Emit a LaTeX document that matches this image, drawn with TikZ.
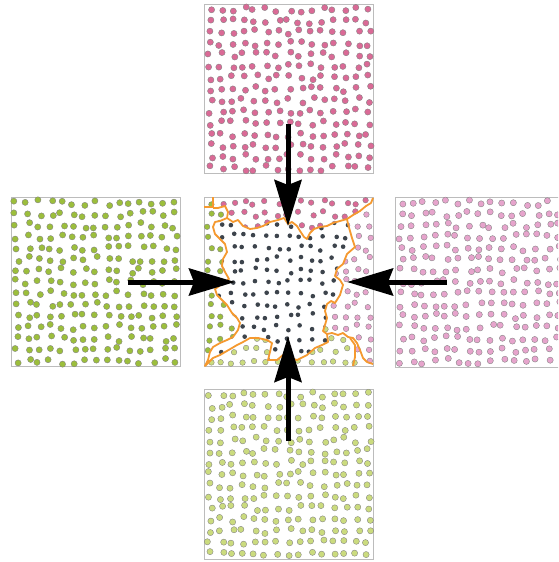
\documentclass[tikz,border=0pt]{standalone}
\usetikzlibrary{arrows.meta}
\definecolor{pinkA}{HTML}{DA6A96}
\definecolor{pinkB}{HTML}{E6A4CC}
\definecolor{greenA}{HTML}{9CBE3C}
\definecolor{greenB}{HTML}{CBDB7E}
\definecolor{darkdot}{HTML}{3D444C}
\definecolor{blobline}{HTML}{F5992F}
\definecolor{framecol}{HTML}{BCBCBC}
\tikzset{
  frm/.style={draw=framecol, line width=1pt},
  dotrim/.style={draw=black!50, line width=0.35pt},
  bigarrow/.style={line width=5pt, -{Stealth[length=46pt,width=27pt,inset=5pt]}},
  contour/.style={draw=blobline, line width=1.8pt, line join=round},
}
\newcommand{\dotfield}[4]{%
  \pgfmathsetseed{#4}%
  \foreach \i in {0,...,14}{\foreach \j in {0,...,14}{%
    \pgfmathsetmacro{\px}{#1+(\i+0.5)*11.33+2.9*rand}%
    \pgfmathsetmacro{\py}{#2+(\j+0.5)*11.33+2.9*rand}%
    \fill[#3, dotrim] (\px,\py) circle[radius=3.1pt];
  }}}
\newcommand{\centerfield}{%
  \pgfmathsetseed{77}%
  \foreach \i in {0,...,14}{\foreach \j in {0,...,14}{%
    \pgfmathsetmacro{\px}{204+(\i+0.5)*11.33+2.9*rand}%
    \pgfmathsetmacro{\py}{197+(\j+0.5)*11.33+2.9*rand}%
    \pgfmathtruncatemacro{\reg}{ifthenelse(abs(\py-281.5)>=abs(\px-288.5), ifthenelse(\py<281.5,0,1), ifthenelse(\px<288.5,2,3))}%
    \ifcase\reg \def\dc{pinkA}\or \def\dc{greenB}\or \def\dc{greenA}\else \def\dc{pinkB}\fi
    \fill[\dc, dotrim] (\px,\py) circle[radius=2.8pt];
  }}}
\def\blobpath{(227,218) -- (233,222) -- (238,220) -- (243,226) -- (250,229) -- (257,228) -- (263,226) -- (270,222) -- (278,220) -- (284,218) -- (288,224) -- (292,222) -- (297,226) -- (300,231) -- (304,237) -- (307,239) -- (310,233) -- (314,229) -- (320,227) -- (327,226) -- (333,223) -- (340,221) -- (347,219) -- (348,224) -- (350,231) -- (352,238) -- (355,247) -- (347,254) -- (343,264) -- (337,269) -- (335,276) -- (340,280) -- (343,285) -- (340,295) -- (335,303) -- (331,301) -- (327,304) -- (325,311) -- (327,318) -- (325,325) -- (323,331) -- (327,334) -- (328,342) -- (322,345) -- (315,348) -- (307,355) -- (297,360) -- (290,358) -- (283,355) -- (277,360) -- (268,360) -- (270,352) -- (272,343) -- (267,340) -- (258,338) -- (250,338) -- (243,342) -- (237,345) -- (232,348) -- (220,355) -- (213,358) -- (208,363) -- (205,366) -- (208,360) -- (210,352) -- (213,347) -- (220,343) -- (227,340) -- (233,337) -- (238,330) -- (240,323) -- (237,318) -- (232,313) -- (227,305) -- (222,300) -- (217,295) -- (215,289) -- (222,284) -- (229,279) -- (225,272) -- (222,266) -- (223,259) -- (227,252) -- (225,244) -- (220,239) -- (215,234) -- (213,227) -- (215,222) -- (220,221) -- cycle}
\begin{document}
\begin{tikzpicture}[x=1pt,y=-1pt]
\clip (0,0) rectangle (558,562);
\fill[white] (0,0) rectangle (558,562);
% frames
\draw[frm] (204,4) rectangle (373,173);
\draw[frm] (11,197) rectangle (180,366);
\draw[frm] (204,197) rectangle (373,366);
\draw[frm] (395,197) rectangle (565,367);
\draw[frm] (204,389) rectangle (373,559);
% dot fields
\dotfield{204}{4}{pinkA}{11}
\dotfield{11}{197}{greenA}{23}
\dotfield{395}{197}{pinkB}{37}
\dotfield{204}{389}{greenB}{41}
% centre
\centerfield
\fill[white] \blobpath;
\begin{scope}
  \clip \blobpath;
  \pgfmathsetseed{5}
  \foreach \i in {0,...,14}{\foreach \j in {0,...,14}{%
    \pgfmathsetmacro{\px}{204+(\i+0.5)*11.33+2.9*rand}%
    \pgfmathsetmacro{\py}{197+(\j+0.5)*11.33+2.9*rand}%
    \fill[darkdot] (\px,\py) circle[radius=2.3pt];
  }}
\end{scope}
\draw[contour] \blobpath;
\draw[contour] (204,207) -- (213,207) -- (213,197);
\draw[contour] (213,208) -- (218,208) -- (225,206) -- (228,212) -- (227,218);
\draw[contour] (347,219) -- (353,215) -- (360,211) -- (366,206) -- (371,203) -- (373,198);
\draw[contour] (327,334) -- (332,333) -- (338,335) -- (343,333) -- (348,337) -- (353,338) -- (357,343) -- (360,350) -- (363,358) -- (367,362) -- (373,364);
\draw[contour] (350,338) -- (355,345) -- (355,357) -- (353,366);
% arrows
\coordinate (topS) at (288,124); \coordinate (topE) at (288,226);
\coordinate (botS) at (288,441); \coordinate (botE) at (288,336);
\coordinate (lefS) at (128,282); \coordinate (lefE) at (235,282);
\coordinate (rigS) at (447,282); \coordinate (rigE) at (347,282);
\draw[bigarrow] (topS) -- (topE);
\draw[bigarrow] (botS) -- (botE);
\draw[bigarrow] (lefS) -- (lefE);
\draw[bigarrow] (rigS) -- (rigE);
\end{tikzpicture}
\end{document}
